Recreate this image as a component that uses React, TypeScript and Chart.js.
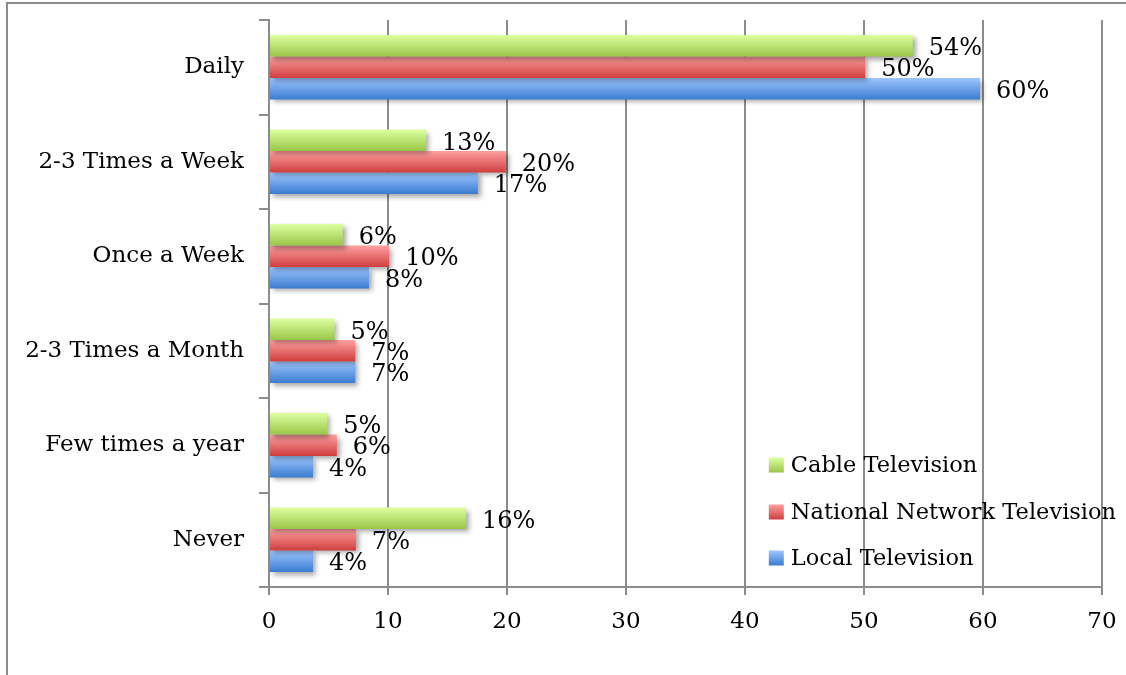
import React, { useEffect, useRef } from "react";
import { Chart, registerables } from "chart.js";

Chart.register(...registerables);

const categories = [
  "Daily",
  "2-3 Times a Week",
  "Once a Week",
  "2-3 Times a Month",
  "Few times a year",
  "Never",
];
const seriesNames = ["Cable Television", "National Network Television", "Local Television"];
const cableValues = [54.1, 13.2, 6.2, 5.5, 4.9, 16.55];
const nationalValues = [50.1, 19.9, 10.1, 7.25, 5.7, 7.3];
const localValues = [59.75, 17.55, 8.4, 7.25, 3.7, 3.7];
const cableLabels = ["54%", "13%", "6%", "5%", "5%", "16%"];
const nationalLabels = ["50%", "20%", "10%", "7%", "6%", "7%"];
const localLabels = ["60%", "17%", "8%", "7%", "4%", "4%"];
const xMin = 0;
const xMax = 70;
const xStep = 10;

const gradientStops = [
  ["#dcffa0", "#98c648"],
  ["#ffa0a0", "#cf3e3e"],
  ["#9ec6ff", "#3b7cd0"],
];
const FONT = '"DejaVu Serif", serif';
const GRID = "#8c8c8c";

function makeGrad(ctx: CanvasRenderingContext2D, top: number, bottom: number, i: number) {
  const g = ctx.createLinearGradient(0, top, 0, bottom);
  g.addColorStop(0, gradientStops[i][0]);
  g.addColorStop(1, gradientStops[i][1]);
  return g;
}

const gradientPlugin = {
  id: "gradBars",
  beforeDatasetsDraw(chart: any) {
    const ctx = chart.ctx;
    chart.data.datasets.forEach((_: any, i: number) => {
      const meta = chart.getDatasetMeta(i);
      meta.data.forEach((el: any) => {
        const { y, height } = el.getProps(["y", "height"], true);
        const g = makeGrad(ctx, y - height / 2, y + height / 2, i);
        el.options = Object.assign({}, el.options, { backgroundColor: g });
      });
    });
  },
  beforeDatasetDraw(chart: any) {
    const ctx = chart.ctx;
    ctx.save();
    ctx.shadowColor = "rgba(0,0,0,0.35)";
    ctx.shadowBlur = 5;
    ctx.shadowOffsetX = 3;
    ctx.shadowOffsetY = 3;
  },
  afterDatasetDraw(chart: any) {
    chart.ctx.restore();
  },
  afterDatasetsDraw(chart: any) {
    const ctx = chart.ctx;
    ctx.save();
    ctx.font = `24px ${FONT}`;
    ctx.fillStyle = "#000";
    ctx.textAlign = "left";
    ctx.textBaseline = "middle";
    chart.data.datasets.forEach((ds: any, i: number) => {
      const meta = chart.getDatasetMeta(i);
      meta.data.forEach((el: any, j: number) => {
        const { x, y } = el.getProps(["x", "y"], true);
        ctx.fillText(ds.valueLabels[j], x + 16, y + 3);
      });
    });
    ctx.restore();
  },
  afterDraw(chart: any) {
    const ctx = chart.ctx;
    const ca = chart.chartArea;
    const lx = ca.left + (ca.right - ca.left) * 0.6;
    const rows = [ca.bottom - 122, ca.bottom - 75, ca.bottom - 29];
    ctx.save();
    ctx.font = `22.5px ${FONT}`;
    ctx.fillStyle = "#000";
    ctx.textAlign = "left";
    ctx.textBaseline = "middle";
    chart.data.datasets.forEach((ds: any, i: number) => {
      const cy = rows[i];
      ctx.fillStyle = makeGrad(ctx, cy - 7.5, cy + 7.5, i);
      ctx.fillRect(lx, cy - 7.5, 15, 15);
      ctx.fillStyle = "#000";
      ctx.fillText(ds.label, lx + 22, cy + 1);
    });
    ctx.restore();
  },
};

export default function App() {
  const ref = useRef<HTMLCanvasElement>(null);
  useEffect(() => {
    if (!ref.current) return;
    const values = [cableValues, nationalValues, localValues];
    const labels = [cableLabels, nationalLabels, localLabels];
    const chart = new Chart(ref.current, {
      type: "bar",
      data: {
        labels: categories,
        datasets: seriesNames.map((name, i) => ({
          label: name,
          data: values[i],
          valueLabels: labels[i],
          backgroundColor: gradientStops[i][1],
          borderWidth: 0,
          categoryPercentage: 0.68,
          barPercentage: 1,
        })) as any,
      },
      options: {
        indexAxis: "y",
        responsive: false,
        devicePixelRatio: 1,
        animation: false,
        layout: { padding: { top: 20, right: 24, left: 0, bottom: 0 } },
        plugins: { legend: { display: false }, tooltip: { enabled: false } },
        scales: {
          x: {
            min: xMin,
            max: xMax,
            ticks: {
              stepSize: xStep,
              color: "#000",
              font: { family: FONT, size: 23 },
              padding: 13,
            },
            grid: { color: GRID, lineWidth: 2, tickLength: 8 },
            border: { display: true, color: GRID, width: 2 },
            afterFit: (s: any) => {
              s.height = 88;
              s.paddingLeft = 0;
              s.paddingRight = 0;
            },
          },
          y: {
            ticks: {
              color: "#000",
              font: { family: FONT, size: 23 },
              padding: 15,
            },
            grid: {
              offset: true,
              drawOnChartArea: false,
              color: GRID,
              lineWidth: 2,
              tickLength: 10,
            },
            border: { display: true, color: GRID, width: 2 },
            afterFit: (s: any) => {
              s.width = 269;
              s.paddingTop = 0;
              s.paddingBottom = 0;
            },
          },
        },
      },
      plugins: [gradientPlugin],
    });
    return () => chart.destroy();
  }, []);
  return (
    <div
      style={{
        position: "fixed",
        left: 0,
        top: 0,
        width: 1126,
        height: 675,
        overflow: "hidden",
        background: "#fff",
      }}
    >
      <div
        style={{
          position: "absolute",
          left: 6,
          top: 2,
          width: 1200,
          height: 800,
          border: `2px solid ${GRID}`,
        }}
      />
      <canvas
        ref={ref}
        width={1126}
        height={675}
        style={{ position: "absolute", left: 0, top: 0 }}
      />
    </div>
  );
}
